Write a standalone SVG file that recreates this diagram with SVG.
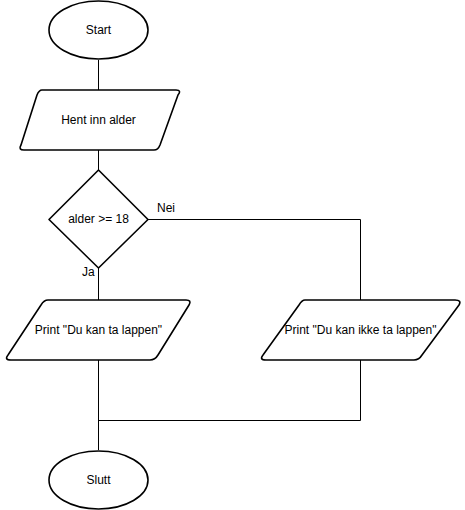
<svg xmlns="http://www.w3.org/2000/svg" width="465" height="510" viewBox="0 0 465 510">
<style>
.shape{fill:#fff;stroke:#000;stroke-width:1.6;stroke-linejoin:round}
.edge{fill:none;stroke:#000;stroke-width:1}
text{font-family:"Liberation Sans",Arial,Helvetica,sans-serif;font-size:12px;fill:#000}
.c{text-anchor:middle;dominant-baseline:central}
</style>
<rect width="465" height="510" fill="#fff"/>
<g id="connectors">
<path class="edge" d="M98.5 60V90"/>
<path class="edge" d="M98.5 150V170"/>
<path class="edge" d="M98.5 268V300"/>
<path class="edge" d="M148 219.5H360.5V300"/>
<path class="edge" d="M98.5 360V450"/>
<path class="edge" d="M360.5 360V420.5H98.5"/>
<text x="157" y="212">Nei</text>
<text x="82" y="276">Ja</text>
</g>
<g id="start">
<ellipse class="shape" cx="98.5" cy="30" rx="49.5" ry="29"/>
<text class="c" x="98.5" y="30">Start</text>
</g>
<g id="input">
<path class="shape" d="M42 90H176Q182 90 178 95L160 145Q158 150 154 150H24Q18 150 21 145L37 95Q39 90 42 90Z"/>
<text class="c" x="98.5" y="120">Hent inn alder</text>
</g>
<g id="decision">
<path class="shape" d="M98.5 170L148 219.5L98.5 268L49 219.5Z"/>
<text class="c" x="98.5" y="219">alder &gt;= 18</text>
</g>
<g id="print-yes">
<path class="shape" d="M48 300H186Q192 300 189 305L158 355Q155 360 150 360H11Q4 360 8 355L41 305Q44 300 48 300Z"/>
<text class="c" x="98.5" y="330">Print "Du kan ta lappen"</text>
</g>
<g id="print-no">
<path class="shape" d="M305 300H455Q462 300 459 305L422 355Q419 360 414 360H266Q259 360 263 355L299 305Q302 300 305 300Z"/>
<text class="c" x="360.5" y="330">Print "Du kan ikke ta lappen"</text>
</g>
<g id="end">
<ellipse class="shape" cx="98.5" cy="480" rx="49.5" ry="29"/>
<text class="c" x="98.5" y="480">Slutt</text>
</g>
</svg>
